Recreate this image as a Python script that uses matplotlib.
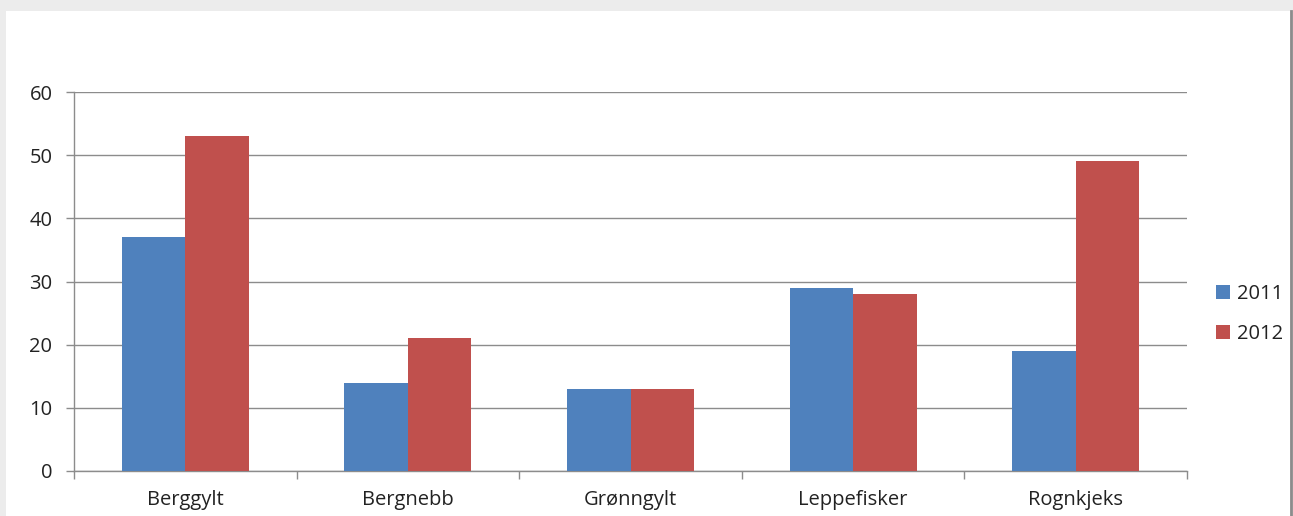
import matplotlib
matplotlib.use("Agg")
import matplotlib.pyplot as plt
from matplotlib.patches import Rectangle, Patch
from matplotlib.lines import Line2D
import numpy as np

categories = ["Berggylt", "Bergnebb", "Grønngylt", "Leppefisker", "Rognkjeks"]
series_names = ["2011", "2012"]
values_2011 = [37, 14, 13, 29, 19]
values_2012 = [53, 21, 13, 28, 49]
yticks = [0, 10, 20, 30, 40, 50, 60]

W, H = 1293, 516
plt.rcParams['font.family'] = ['Open Sans', 'DejaVu Sans']
fig = plt.figure(figsize=(W/100, H/100), dpi=100)
fig.patch.set_facecolor("#ececec")
# white panel
fig.patches.append(Rectangle((6/W, 0), (1290-6)/W, (H-11)/H, transform=fig.transFigure,
                             facecolor="white", edgecolor="none", zorder=-5))
fig.lines.append(Line2D([1290.5/W, 1290.5/W], [0, (H-11)/H], transform=fig.transFigure,
                        color="#8c8c8c", lw=2.0, zorder=-4))

ax = fig.add_axes([74/W, (H-471)/H, (1187-74)/W, (471-92)/H])
ax.set_zorder(2)
ax.set_facecolor("none")
x = np.arange(len(categories))
bw = 0.285
ax.bar(x - bw/2, values_2011, width=bw, color="#4f81bd", label=series_names[0], zorder=3)
ax.bar(x + bw/2, values_2012, width=bw, color="#c0504d", label=series_names[1], zorder=3)

ax.set_xlim(-0.5, len(categories) - 0.5)
ax.set_ylim(0, 60)
ax.set_yticks(yticks)
ax.set_yticklabels([str(v) for v in yticks], fontsize=14.5, color="#222222")
ax.yaxis.grid(True, color="#8c8c8c", lw=1.0, zorder=0)
ax.set_axisbelow(True)

ax.set_xticks(x)
ax.set_xticklabels(categories, fontsize=14.5, color="#222222")
ax.tick_params(axis='x', length=0, pad=14)
ax.set_xticks(np.arange(-0.5, len(categories)), minor=True)
ax.tick_params(axis='x', which='minor', length=6, color="#8c8c8c", width=1.0)
ax.tick_params(axis='y', length=6, color="#8c8c8c", width=1.0, pad=9.5)

for s in ["top", "right"]:
    ax.spines[s].set_visible(False)
for s in ["left", "bottom"]:
    ax.spines[s].set_color("#8c8c8c")
    ax.spines[s].set_linewidth(1.0)

handles = [Patch(facecolor="#4f81bd"), Patch(facecolor="#c0504d")]
leg = fig.legend(handles, series_names, loc="upper left",
                 bbox_to_anchor=(1198/W, 1 - 266/H), frameon=False, fontsize=14.5,
                 handlelength=0.7, handleheight=0.7, handletextpad=0.35, labelspacing=1.0)
for t in leg.get_texts():
    t.set_color("#222222")

fig.savefig("out.png", dpi=100, facecolor=fig.get_facecolor())
